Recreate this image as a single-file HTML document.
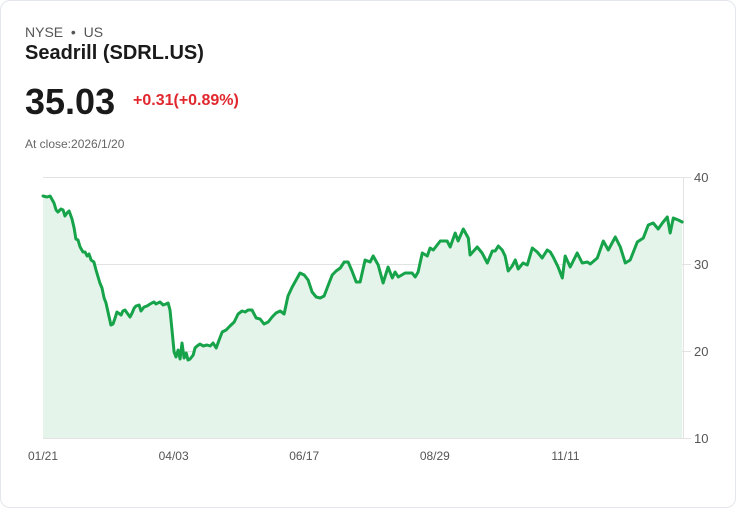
<!DOCTYPE html>
<html><head><meta charset="utf-8">
<style>
html,body{margin:0;padding:0;background:#fff;width:736px;height:508px;overflow:hidden;font-family:"Liberation Sans",Arial,sans-serif;}
.card{position:absolute;left:0;top:0;width:734px;height:506px;border:1px solid #e3e6ea;border-radius:10px;background:#fff;}
.t{position:absolute;white-space:nowrap;}
</style></head><body>
<div class="card">
<div class="t" style="left:24px;top:23px;font-size:14px;color:#555;">NYSE &nbsp;•&nbsp; US</div>
<div class="t" style="left:24px;top:41px;font-size:20px;font-weight:bold;color:#1a1a1a;">Seadrill (SDRL.US)</div>
<div class="t" style="left:24px;top:80px;font-size:36px;font-weight:bold;color:#1a1a1a;">35.03</div>
<div class="t" style="left:132px;top:91px;font-size:16px;font-weight:bold;color:#e0282e;">+0.31(+0.89%)</div>
<div class="t" style="left:24px;top:136px;font-size:12px;color:#666;">At close:2026/1/20</div>
<svg id="chart" width="736" height="508" style="position:absolute;left:-1px;top:-1px;"></svg>
</div>
<script>
const days=[0,1.5,2.7,4.2,5.0,5.7,6.9,7.7,8.4,9.2,10.0,11.1,11.9,12.6,13.4,14.2,15.3,16.1,16.9,17.6,18.4,19.5,20.3,21.1,21.8,22.6,23.4,24.1,24.9,26.0,26.8,27.6,28.3,29.9,30.6,31.4,32.2,33.3,34.1,34.9,35.6,36.8,37.5,38.7,39.8,41.0,41.7,42.5,43.3,44.0,44.8,46.0,47.1,47.9,48.6,49.4,50.2,50.9,51.7,52.5,53.2,54.0,54.8,55.5,56.3,57.5,58.2,59.0,60.1,61.3,62.8,64.0,65.1,66.3,67.4,68.6,70.1,71.6,73.2,74.7,76.2,77.4,78.5,80.0,81.6,83.1,84.6,86.2,87.7,89.2,90.8,92.3,93.8,95.4,96.9,98.4,100.0,101.5,103.0,104.6,106.1,107.6,109.2,110.7,112.2,113.8,115.3,116.8,118.3,119.9,121.4,123.3,125.2,126.4,128.3,130.2,132.1,133.7,134.8,136.0,138.6,141.3,142.5,143.6,145.2,147.1,148.2,149.4,152.1,154.7,155.9,157.8,158.9,160.9,162.8,163.5,166.2,168.1,170.1,172.0,173.1,174.3,175.8,176.9,178.1,179.6,180.8,181.9,183.8,185.4,187.3,189.2,191.1,193.0,194.2,195.3,197.2,198.8,199.9,201.8,204.5,206.4,208.4,209.5,212.2,214.5,216.4,219.1,221.0,222.9,224.8,227.5,229.8,231.7,233.6,235.5,237.1,239.0,240.1,241.3,243.2,244.7];
const prices=[37.82,37.70,37.82,37.01,36.21,35.98,36.32,36.21,35.52,35.86,36.09,35.17,34.14,32.87,32.76,31.95,31.38,31.38,30.92,31.15,30.46,30.23,29.31,28.51,27.82,27.24,26.09,25.52,24.48,22.99,23.10,23.79,24.48,24.14,24.60,24.71,24.37,23.91,24.37,24.94,25.17,25.29,24.60,25.06,25.17,25.40,25.52,25.63,25.40,25.52,25.63,25.29,25.40,25.52,24.71,22.41,19.89,19.31,20.11,19.08,20.92,19.20,19.77,18.97,19.08,19.54,20.34,20.57,20.80,20.57,20.69,20.57,20.92,20.34,21.26,22.18,22.41,22.87,23.33,24.25,24.60,24.48,24.71,24.71,23.79,23.68,23.10,23.33,23.91,24.37,24.60,24.25,26.32,27.36,28.16,28.97,28.74,28.16,26.78,26.21,26.09,26.32,27.59,28.74,29.20,29.54,30.23,30.23,29.20,27.93,27.93,30.46,30.23,30.92,29.89,27.82,29.66,28.39,29.08,28.51,28.97,28.97,28.51,29.08,31.26,30.92,31.84,31.61,32.64,32.64,31.95,33.56,32.64,34.02,32.99,31.03,31.95,31.26,30.11,31.49,31.49,32.07,31.61,30.92,29.20,29.77,30.46,29.43,30.11,29.89,31.84,31.38,30.69,31.61,31.38,30.80,29.66,28.39,30.92,29.66,31.26,30.11,30.23,30.00,30.69,32.64,31.61,33.10,31.95,30.11,30.46,32.53,32.99,34.48,34.71,34.02,34.71,35.40,33.56,35.29,35.06,34.83];
const yTicks=[40,30,20,10];
const xTickLabels=["01/21","04/03","06/17","08/29","11/11"];
const xTickDays=[0,50,100,150,200];

const X0=43,X1=683,Y0=438,Y1=177,DMAX=245,PMIN=10,PMAX=40;
const xs=d=>X0+(d/DMAX)*(X1-X0);
const ys=p=>Y0-(p-PMIN)/(PMAX-PMIN)*(Y0-Y1);
const svg=document.getElementById('chart');
const NS='http://www.w3.org/2000/svg';
function mk(tag,attrs){const e=document.createElementNS(NS,tag);for(const k in attrs)e.setAttribute(k,attrs[k]);svg.appendChild(e);return e;}

yTicks.forEach(v=>{
  const l=mk('line',{x1:X0,x2:X1+8,y1:ys(v)+0.5,y2:ys(v)+0.5,stroke:'#e3e3e3','stroke-width':1});
  
  
  const t=mk('text',{x:X1+11,y:ys(v)+5,'font-size':13,fill:'#555','font-family':'Liberation Sans, sans-serif'});
  t.textContent=v;
  
  
});
const ax=mk('line',{x1:X1+0.5,x2:X1+0.5,y1:Y1,y2:Y0,stroke:'#e3e3e3','stroke-width':1});



let d='';
days.forEach((dd,i)=>{d+=(i?'L':'M')+xs(dd).toFixed(1)+','+ys(prices[i]).toFixed(1);});
const area=mk('path',{d:d+'L'+xs(days[days.length-1])+','+Y0+'L'+xs(days[0])+','+Y0+'Z',fill:'#e5f4ea',stroke:'none'});


const line=mk('path',{d:d,fill:'none',stroke:'#16a34a','stroke-width':3,'stroke-linejoin':'round','stroke-linecap':'round'});



xTickLabels.forEach((lab,i)=>{
  const t=mk('text',{x:xs(xTickDays[i]),y:460,'font-size':12,fill:'#555','text-anchor':'middle','font-family':'Liberation Sans, sans-serif'});
  t.textContent=lab;
  
  
});
</script>
</body></html>
